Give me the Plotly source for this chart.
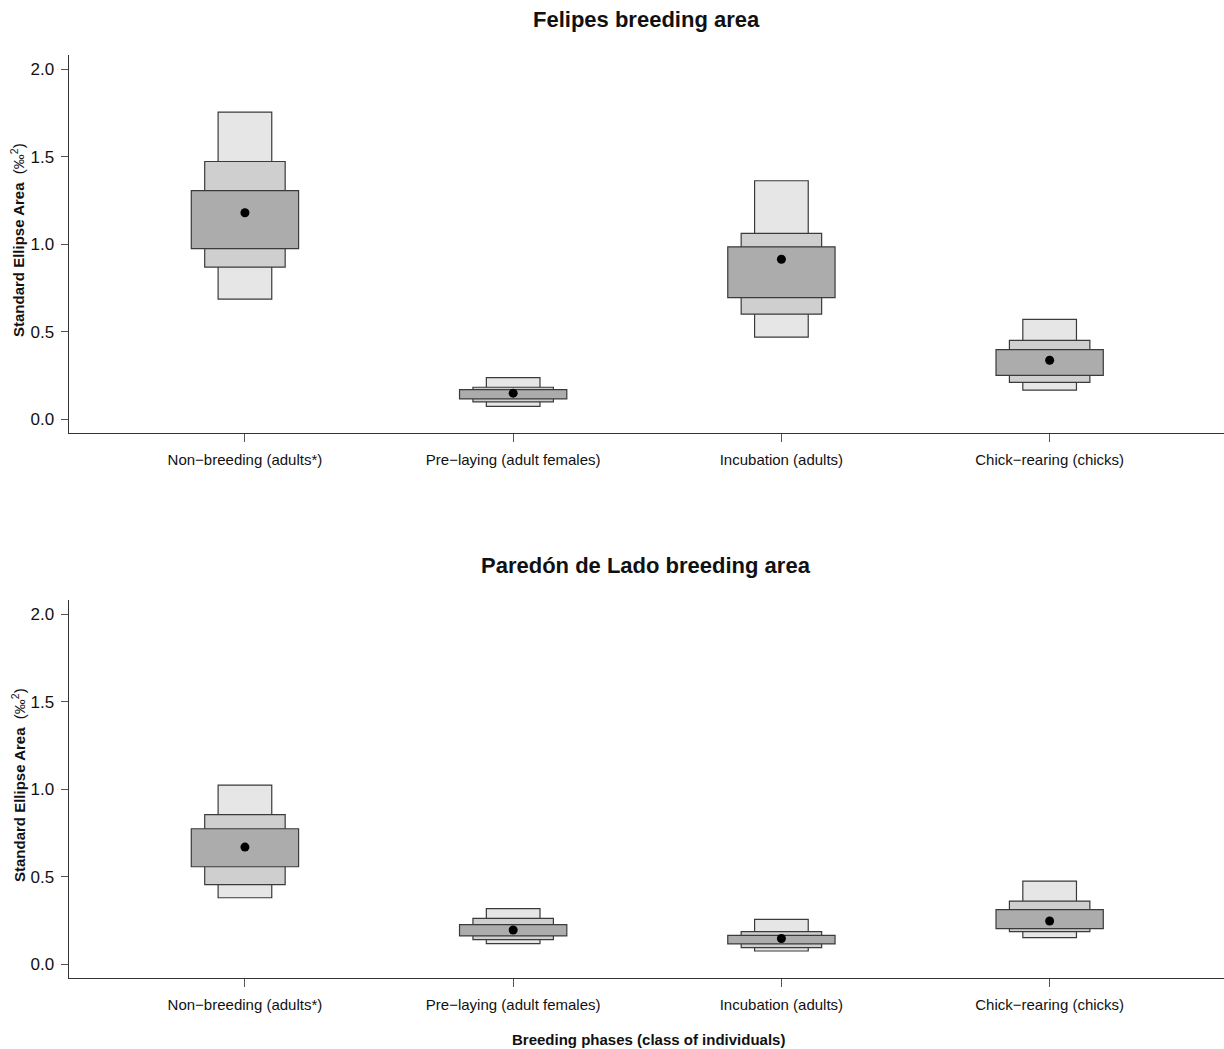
import plotly.graph_objects as go

# Breeding phases (x categories)
phases = ["Non\u2212breeding (adults*)", "Pre\u2212laying (adult females)",
          "Incubation (adults)", "Chick\u2212rearing (chicks)"]
phase_pos = [1, 2, 3, 4]

# Felipes: posterior SEA credible intervals (95 / 75 / 50 %) and mode
fel_lo95 = [0.686, 0.074, 0.469, 0.167]
fel_hi95 = [1.754, 0.238, 1.362, 0.571]
fel_lo75 = [0.869, 0.100, 0.600, 0.211]
fel_hi75 = [1.472, 0.183, 1.061, 0.451]
fel_lo50 = [0.975, 0.116, 0.695, 0.251]
fel_hi50 = [1.306, 0.169, 0.985, 0.398]
fel_mode = [1.179, 0.149, 0.914, 0.337]

# Paredón de Lado
par_lo95 = [0.380, 0.118, 0.076, 0.152]
par_hi95 = [1.023, 0.318, 0.257, 0.475]
par_lo75 = [0.455, 0.141, 0.095, 0.187]
par_hi75 = [0.854, 0.262, 0.187, 0.361]
par_lo50 = [0.557, 0.162, 0.116, 0.204]
par_hi50 = [0.774, 0.226, 0.165, 0.312]
par_mode = [0.669, 0.196, 0.147, 0.247]

y_ticks = [0.0, 0.5, 1.0, 1.5, 2.0]

# interval level -> (box width in category units, fill colour)
levels = [("95", 0.20, "#e6e6e6"), ("75", 0.30, "#cfcfcf"), ("50", 0.40, "#acacac")]

W, H = 1224, 1049
fig = go.Figure()


def add_panel(xa, ya, lo_hi, mode):
    for (name, width, col), (lo, hi) in zip(levels, lo_hi):
        fig.add_trace(go.Bar(
            x=phase_pos, base=lo, y=[h - l for l, h in zip(lo, hi)],
            width=width, marker=dict(color=col, line=dict(color="#3a3a3a", width=1.2)),
            xaxis=xa, yaxis=ya, showlegend=False, name=name + "%"))
    fig.add_trace(go.Scatter(
        x=phase_pos, y=mode, mode="markers",
        marker=dict(color="black", size=9), xaxis=xa, yaxis=ya, showlegend=False))


add_panel("x", "y", [(fel_lo95, fel_hi95), (fel_lo75, fel_hi75), (fel_lo50, fel_hi50)], fel_mode)
add_panel("x2", "y2", [(par_lo95, par_hi95), (par_lo75, par_hi75), (par_lo50, par_hi50)], par_mode)

left = 68.7 / W
axis_common = dict(showgrid=False, zeroline=False, showline=True, linecolor="#333333",
                   linewidth=1.3, ticks="outside", tickcolor="#555555", ticklen=8, tickwidth=1.2)
xcommon = dict(axis_common, range=[0.343, 4.65], tickvals=phase_pos, ticktext=phases,
               tickfont=dict(family="Liberation Sans, Arial", size=15, color="#111111"),
               ticklabelstandoff=5)
ycommon = dict(axis_common, range=[-0.08, 2.08], tickvals=y_ticks, tickformat=".1f",
               ticklen=7, tickfont=dict(family="Liberation Sans, Arial", size=17, color="#111111"),
               ticklabelstandoff=3)

fig.update_layout(
    width=W, height=H, margin=dict(l=0, r=0, t=0, b=0),
    paper_bgcolor="white", plot_bgcolor="white", barmode="overlay",
    xaxis=dict(xcommon, domain=[left, 1.0], anchor="y"),
    yaxis=dict(ycommon, domain=[1 - 433.3 / H, 1 - 55 / H], anchor="x"),
    xaxis2=dict(xcommon, domain=[left, 1.0], anchor="y2"),
    yaxis2=dict(ycommon, domain=[1 - 978.3 / H, 1 - 600 / H], anchor="x2"),
)

ann_font = dict(family="Liberation Sans, Arial", color="#111111")
titles = [("<b>Felipes breeding area</b>", 19), ("<b>Paredón de Lado breeding area</b>", 565)]
for txt, ypx in titles:
    fig.add_annotation(text=txt, xref="paper", yref="paper", x=(68.7 + W) / 2 / W,
                       y=1 - ypx / H, showarrow=False, font=dict(ann_font, size=22),
                       xanchor="center", yanchor="middle")

ylab = "<b>Standard Ellipse Area</b>  (‰<sup>2</sup>)"
for ypx in [240, 785]:
    fig.add_annotation(text=ylab, xref="paper", yref="paper", x=18 / W, y=1 - ypx / H,
                       showarrow=False, textangle=-90, font=dict(ann_font, size=15),
                       xanchor="center", yanchor="middle")

fig.add_annotation(text="<b>Breeding phases (class of individuals)</b>", xref="paper",
                   yref="paper", x=648 / W, y=1 - 1039 / H, showarrow=False,
                   font=dict(ann_font, size=15), xanchor="center", yanchor="middle")

fig.write_html("out.html")
